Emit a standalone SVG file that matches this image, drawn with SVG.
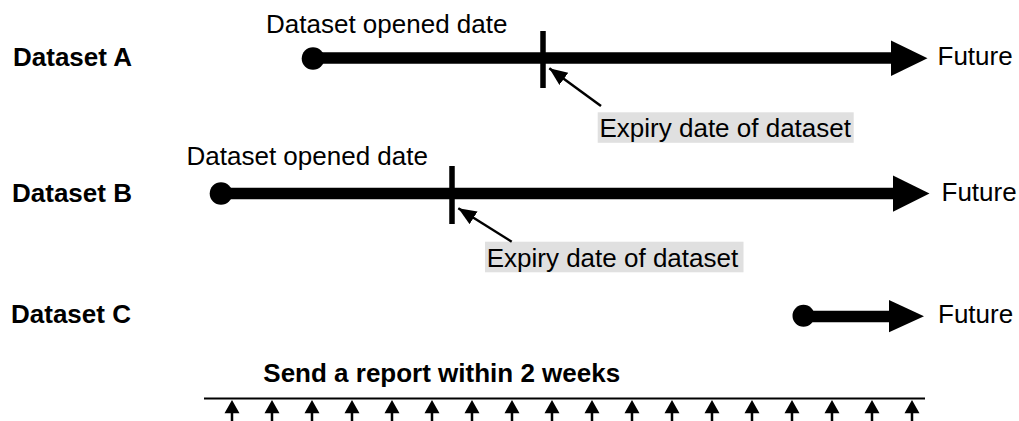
<svg xmlns="http://www.w3.org/2000/svg" width="1019" height="421" viewBox="0 0 1019 421">
<defs>
<style>
text{font-family:"Liberation Sans",Arial,sans-serif;font-size:26px;fill:#000}
.b{font-weight:bold}
.tl{stroke:#000;stroke-width:11.5;fill:none}
.tick{stroke:#000;stroke-width:5.5}
.bg{fill:#e0e0e0}
.ptr{stroke:#000;stroke-width:2.5;fill:none}
</style>
<marker id="ah" markerUnits="userSpaceOnUse" markerWidth="20" markerHeight="20" refX="18" refY="7.5" orient="auto">
<path d="M0,0 L18,7.5 L0,15 Z" fill="#000"/>
</marker>
</defs>
<rect width="1019" height="421" fill="#fff"/>

<g id="label-a"><text class="b" x="13" y="66">Dataset A</text></g>
<g id="label-b"><text class="b" x="12" y="201.5">Dataset B</text></g>
<g id="label-c"><text class="b" x="11" y="323">Dataset C</text></g>

<g id="timeline-a">
<text x="266" y="33">Dataset opened date</text>
<circle cx="313" cy="58.5" r="11.3" fill="#000"/>
<line class="tl" x1="313" y1="58" x2="893" y2="58"/>
<polygon points="891,40.5 927.5,58.3 891,76" fill="#000"/>
<line class="tick" x1="543" y1="31" x2="543" y2="88"/>
<text x="937.5" y="65">Future</text>
</g>
<g id="expiry-a">
<rect class="bg" x="597.7" y="112.3" width="256" height="30.5"/>
<text x="599.5" y="136.5">Expiry date of dataset</text>
</g>

<g id="timeline-b">
<text x="186.5" y="165">Dataset opened date</text>
<circle cx="221" cy="193.5" r="11.3" fill="#000"/>
<line class="tl" x1="221" y1="193.5" x2="895" y2="193.5"/>
<polygon points="893,175.5 929.5,193.6 893,211.7" fill="#000"/>
<line class="tick" x1="452" y1="166" x2="452" y2="224"/>
<text x="941.5" y="201">Future</text>
</g>
<g id="expiry-b">
<rect class="bg" x="485" y="241.7" width="258.5" height="30.6"/>
<text x="486.7" y="266.7">Expiry date of dataset</text>
</g>

<g id="timeline-c">
<circle cx="803.5" cy="315.8" r="11" fill="#000"/>
<line class="tl" x1="803.5" y1="316.5" x2="891" y2="316.5"/>
<polygon points="889,300 924,316.2 889,332.3" fill="#000"/>
<text x="938" y="323">Future</text>
</g>

<g id="report">
<text class="b" x="263.3" y="381.7">Send a report within 2 weeks</text>
<line x1="204" y1="398.5" x2="925" y2="398.5" stroke="#000" stroke-width="2"/>
</g>

<g id="connectors">
<line class="ptr" x1="601" y1="106" x2="549.3" y2="68.3" marker-end="url(#ah)"/>
<line class="ptr" x1="511.7" y1="241.7" x2="458.3" y2="208.3" marker-end="url(#ah)"/>
<g id="report-arrows" fill="#000" stroke="#000">
<path d="M232,421V412 M272,421V412 M312,421V412 M352,421V412 M392,421V412 M432,421V412 M472,421V412 M512,421V412 M552,421V412 M592,421V412 M632,421V412 M672,421V412 M712,421V412 M752,421V412 M792,421V412 M832,421V412 M872,421V412 M912,421V412" stroke-width="2.5" fill="none"/>
<path stroke="none" d="M224.5,413.3L232,400L239.5,413.3Z M264.5,413.3L272,400L279.5,413.3Z M304.5,413.3L312,400L319.5,413.3Z M344.5,413.3L352,400L359.5,413.3Z M384.5,413.3L392,400L399.5,413.3Z M424.5,413.3L432,400L439.5,413.3Z M464.5,413.3L472,400L479.5,413.3Z M504.5,413.3L512,400L519.5,413.3Z M544.5,413.3L552,400L559.5,413.3Z M584.5,413.3L592,400L599.5,413.3Z M624.5,413.3L632,400L639.5,413.3Z M664.5,413.3L672,400L679.5,413.3Z M704.5,413.3L712,400L719.5,413.3Z M744.5,413.3L752,400L759.5,413.3Z M784.5,413.3L792,400L799.5,413.3Z M824.5,413.3L832,400L839.5,413.3Z M864.5,413.3L872,400L879.5,413.3Z M904.5,413.3L912,400L919.5,413.3Z"/>
</g>
</g>
</svg>
